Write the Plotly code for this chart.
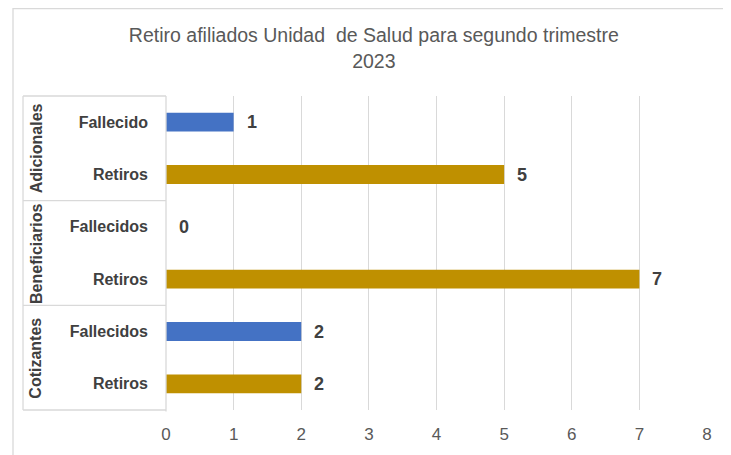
import plotly.graph_objects as go

groups = ["Adicionales", "Adicionales", "Beneficiarios", "Beneficiarios", "Cotizantes", "Cotizantes"]
subcats = ["Fallecido", "Retiros", "Fallecidos", "Retiros", "Fallecidos", "Retiros"]
values = [1, 5, 0, 7, 2, 2]
kinds = ["F", "R", "F", "R", "F", "R"]
group_names = ["Adicionales", "Beneficiarios", "Cotizantes"]
x_ticks = [0, 1, 2, 3, 4, 5, 6, 7, 8]

colors = {"F": "#4472C4", "R": "#BF9000"}
pos = list(range(len(subcats)))

fig = go.Figure()
fig.add_trace(go.Bar(
    x=values, y=pos, orientation="h",
    marker=dict(color=[colors[k] for k in kinds], line=dict(width=0)),
    width=0.36, hoverinfo="x+y",
))

# data labels
for p, v in zip(pos, values):
    fig.add_annotation(x=v, y=p, xref="x", yref="y", text=str(v), showarrow=False,
                       xanchor="left", xshift=11,
                       font=dict(family="Liberation Sans, Arial", size=18, color="#404040", weight="bold"))

# group labels
for gi, g in enumerate(group_names):
    idx = [i for i, gg in enumerate(groups) if gg == g]
    yc = sum(idx) / len(idx)
    fig.add_annotation(x=-0.2403, y=yc, xref="paper", yref="y", text=g, showarrow=False,
                       textangle=-90, xanchor="center", yanchor="middle",
                       font=dict(family="Liberation Sans, Arial", size=16, color="#404040", weight="bold"))

line_col = "#D9D9D9"
shapes = []
n = len(subcats)
# horizontal group dividers
bounds = [0]
for i in range(1, n):
    if groups[i] != groups[i - 1]:
        bounds.append(i)
bounds.append(n)
for b in bounds:
    yp = 1 - b / n
    shapes.append(dict(type="line", xref="paper", yref="paper", x0=-0.2643, x1=0, y0=yp, y1=yp,
                       line=dict(color=line_col, width=1.3)))
shapes.append(dict(type="line", xref="paper", yref="paper", x0=-0.2643, x1=-0.2643, y0=0, y1=1,
                   line=dict(color=line_col, width=1.3)))
shapes.append(dict(type="line", xref="paper", yref="paper", x0=0, x1=0, y0=-0.005, y1=1,
                   line=dict(color=line_col, width=1.3)))
# chart border
shapes.append(dict(type="rect", xref="paper", yref="paper", x0=-0.2828, x1=1.1, y0=-0.3, y1=1.2787,
                   line=dict(color=line_col, width=1.3), fillcolor="rgba(0,0,0,0)", layer="below"))

fig.update_layout(
    width=723, height=447,
    margin=dict(l=158, r=24, t=88, b=45),
    paper_bgcolor="white", plot_bgcolor="white",
    showlegend=False,
    shapes=shapes,
    title=dict(text="Retiro afiliados Unidad  de Salud para segundo trimestre<br>2023",
               x=0.506, xref="container", xanchor="center",
               y=0.923, yref="container", yanchor="top",
               font=dict(family="Liberation Sans, Arial", size=19.5, color="#595959")),
    xaxis=dict(range=[0, 8], tickvals=x_ticks, showgrid=True, gridcolor=line_col, gridwidth=1.3,
               zeroline=False, showline=False, ticks="", ticklabelstandoff=12,
               tickfont=dict(family="Liberation Sans Narrow, Arial", size=17, color="#595959")),
    yaxis=dict(range=[n - 0.5, -0.5], tickvals=pos, ticktext=subcats, showgrid=False,
               zeroline=False, showline=False, ticks="", ticklabelstandoff=17,
               tickfont=dict(family="Liberation Sans, Arial", size=16, color="#404040", weight="bold")),
)

fig.write_html("out.html")
